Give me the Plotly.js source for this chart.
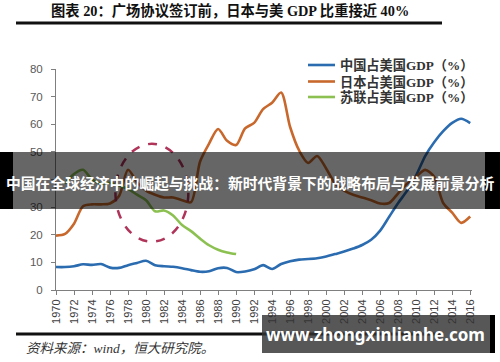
<!DOCTYPE html>
<html>
<head>
<meta charset="utf-8">
<script src="https://cdn.plot.ly/plotly-3.0.1.min.js"></script>
<style>html,body{margin:0;padding:0;background:#fff;}#chart{width:500px;height:362px;}</style>
</head>
<body>
<div id="chart"></div>
<script>
var years = [1970,1971,1972,1973,1974,1975,1976,1977,1978,1979,1980,1981,1982,1983,1984,1985,1986,1987,1988,1989,1990,1991,1992,1993,1994,1995,1996,1997,1998,1999,2000,2001,2002,2003,2004,2005,2006,2007,2008,2009,2010,2011,2012,2013,2014,2015,2016];
var china = [8.3,8.3,8.6,9.3,9.1,9.4,8.1,8.0,9.0,9.8,10.6,9.0,8.6,8.4,7.9,7.2,6.6,6.8,7.9,8.0,6.5,6.7,7.5,9.0,7.6,9.4,10.4,11.0,11.2,11.5,12.1,13.0,13.9,15.0,16.3,18.2,21.5,26.5,31.5,36.0,41.5,48.5,53.5,57.5,60.5,62.0,60.4];
var japan = [19.7,20.3,24.0,30.3,31.0,31.0,31.3,34.0,43.5,39.0,36.0,34.5,33.5,33.5,32.5,31.8,46.5,53.0,58.3,54.0,52.5,58.5,60.5,65.5,67.8,71.5,59.0,50.5,46.0,48.5,44.0,38.5,36.0,34.5,33.5,32.5,31.3,31.5,35.0,38.5,41.0,43.5,41.0,31.5,28.0,24.3,26.6];
var ussrYears = [1971,1972,1973,1974,1975,1976,1977,1978,1979,1980,1981,1982,1983,1984,1985,1986,1987,1988,1989,1990];
var ussr = [38.5,42.0,43.5,40.0,38.5,38.8,37.8,36.6,34.5,32.5,28.5,28.8,27.0,23.5,21.3,18.6,16.2,14.6,13.6,13.0];

var yTickVals = [0,10,20,30,40,50,60,70,80];
var yTickText = ['0','10','20','30','','50','60','70','80']; // "40" is hidden under the overlay banner in the reference

var names = ['中国占美国GDP（%）','日本占美国GDP（%）','苏联占美国GDP（%）'];
var colors = ['#2b6cb0','#c8682c','#8cc152'];

var titleText = '图表 20：广场协议签订前，日本与美 GDP 比重接近 40%';
var sourceText = '资料来源：wind，恒大研究院。';
var bannerText = '中国在全球经济中的崛起与挑战：新时代背景下的战略布局与发展前景分析';
var siteText = 'www.zhongxinlianhe.com';

var L = 56, R = 28, T = 69, B = 72, W = 500, H = 362;
var pw = W - L - R, ph = H - T - B;
function px(x){ return (x - L) / pw; }
function py(y){ return (H - B - y) / ph; }

var traces = [
  {x: years, y: china, name: names[0], type: 'scatter', mode: 'lines', line: {color: colors[0], width: 2.6, shape: 'spline', smoothing: 0.8}},
  {x: years, y: japan, name: names[1], type: 'scatter', mode: 'lines', line: {color: colors[1], width: 2.6, shape: 'spline', smoothing: 0.8}},
  {x: ussrYears, y: ussr, name: names[2], type: 'scatter', mode: 'lines', line: {color: colors[2], width: 2.6, shape: 'spline', smoothing: 0.8}}
];

var serifCJK = 'Liberation Serif, Noto Sans CJK SC, serif';
var shapes = [
  {type: 'circle', xref: 'x', yref: 'y', x0: 1976.6, x1: 1984.7, y0: 17.5, y1: 52.9, line: {color: '#b0345a', width: 2.5, dash: 'dash'}},
  {type: 'line', xref: 'paper', yref: 'paper', x0: px(16), x1: px(442), y0: py(23), y1: py(23), line: {color: '#111', width: 3}},
  {type: 'line', xref: 'paper', yref: 'paper', x0: px(16), x1: px(442), y0: py(334), y1: py(334), line: {color: '#111', width: 3}}
];
var legendY = [65, 81.5, 97];
var annotations = [
  {xref: 'paper', yref: 'paper', x: px(230), y: py(10), text: '<b>' + titleText + '</b>', showarrow: false, xanchor: 'center', yanchor: 'middle', font: {family: serifCJK, size: 14.3, color: '#111'}},
  {xref: 'paper', yref: 'paper', x: px(24), y: py(348), text: '<i>' + sourceText + '</i>', showarrow: false, xanchor: 'left', yanchor: 'middle', font: {family: serifCJK, size: 13.5, color: '#333'}}
];
for (var i = 0; i < 3; i++) {
  shapes.push({type: 'line', xref: 'paper', yref: 'paper', x0: px(308), x1: px(335), y0: py(legendY[i]), y1: py(legendY[i]), line: {color: colors[i], width: 2.6}});
  annotations.push({xref: 'paper', yref: 'paper', x: px(338), y: py(legendY[i]), text: '<b>' + names[i] + '</b>', showarrow: false, xanchor: 'left', yanchor: 'middle', font: {family: serifCJK, size: 13.2, color: '#333'}});
}
shapes.push({type: 'rect', xref: 'paper', yref: 'paper', x0: px(0), x1: px(485), y0: py(209), y1: py(152), line: {width: 0}, fillcolor: 'rgba(0,0,0,0.6)'});
shapes.push({type: 'rect', xref: 'paper', yref: 'paper', x0: px(0), x1: px(13), y0: py(209), y1: py(152), line: {width: 0}, fillcolor: '#000'});
shapes.push({type: 'rect', xref: 'paper', yref: 'paper', x0: px(485), x1: px(500), y0: py(209), y1: py(152), line: {width: 0}, fillcolor: '#000'});
shapes.push({type: 'rect', xref: 'paper', yref: 'paper', x0: px(262), x1: px(490), y0: py(353), y1: py(315), line: {width: 0}, fillcolor: 'rgba(50,50,50,0.82)'});
shapes.push({type: 'rect', xref: 'paper', yref: 'paper', x0: px(490), x1: px(495), y0: py(353), y1: py(315), line: {width: 0}, fillcolor: '#000'});
annotations.push({xref: 'paper', yref: 'paper', x: px(250), y: py(182), text: '<b>' + bannerText + '</b>', showarrow: false, xanchor: 'center', yanchor: 'middle', font: {family: 'Noto Sans CJK SC, sans-serif', size: 14.8, color: '#fff'}});
annotations.push({xref: 'paper', yref: 'paper', x: px(375), y: py(334), text: '<b>' + siteText + '</b>', showarrow: false, xanchor: 'center', yanchor: 'middle', font: {family: 'Noto Sans, DejaVu Sans, sans-serif', size: 17, color: '#fff'}});

var layout = {
  width: W, height: H,
  margin: {l: L, r: R, t: T, b: B, pad: 0},
  paper_bgcolor: '#fff', plot_bgcolor: '#fff',
  showlegend: false,
  xaxis: {range: [1970, 2016.2], tickmode: 'linear', tick0: 1970, dtick: 2, tickangle: -90, ticks: 'outside', ticklen: 4, tickcolor: '#7f7f7f', showline: true, linecolor: '#7f7f7f', linewidth: 1, showgrid: false, zeroline: false, tickfont: {family: 'Liberation Sans, Arial, sans-serif', size: 11, color: '#404040'}},
  yaxis: {range: [0, 80], tickmode: 'array', tickvals: yTickVals, ticktext: yTickText, ticks: 'outside', ticklen: 4, tickcolor: '#7f7f7f', showline: true, linecolor: '#7f7f7f', linewidth: 1, showgrid: false, zeroline: false, ticklabelstandoff: 6, tickfont: {family: 'Liberation Sans, Arial, sans-serif', size: 11.5, color: '#595959'}},
  shapes: shapes,
  annotations: annotations
};

Plotly.newPlot('chart', traces, layout, {staticPlot: true, displayModeBar: false});
</script>
</body>
</html>
